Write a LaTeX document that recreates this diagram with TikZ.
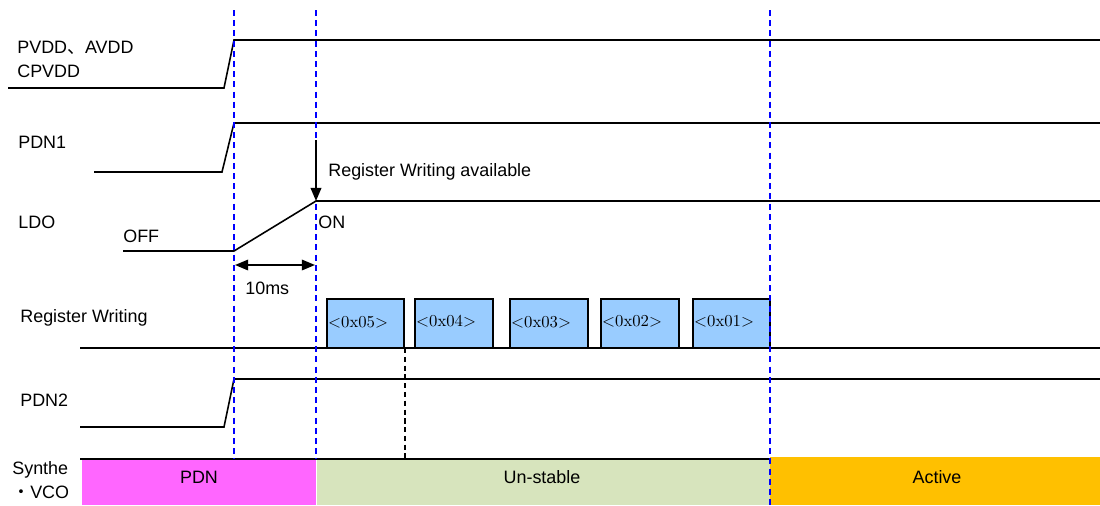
\documentclass[tikz,border=0pt]{standalone}
\usepackage{fontspec}
\setsansfont{Liberation Sans}
\newfontfamily\cjk{Noto Sans CJK SC}
\usetikzlibrary{arrows.meta,positioning}

\definecolor{regblue}{HTML}{99CCFF}
\definecolor{pdnpink}{HTML}{FF66FF}
\definecolor{unstgreen}{HTML}{D7E4BD}
\definecolor{actorange}{HTML}{FFC000}

\tikzset{sigtip/.tip={Triangle[length=7.5pt,width=6pt]}}

\begin{document}
\begin{tikzpicture}[x=0.02cm, y=-0.02cm,
    sig/.style={line width=0.9pt},
    tline/.style={blue, line width=0.9pt, dash pattern=on 3.4pt off 2.4pt},
    lbl/.style={font=\sffamily\fontsize{10.2}{12}\selectfont, inner sep=0pt, anchor=west},
    regbox/.style={draw, line width=0.8pt, fill=regblue},
    regtxt/.style={font=\rmfamily\fontsize{9.5}{11}\selectfont, inner sep=0.5pt, anchor=west},
    bartxt/.style={font=\sffamily\fontsize{10.2}{12}\selectfont, inner sep=0pt}]
    \useasboundingbox (0,0) rectangle (1100,505);

    % state bar
    \fill[pdnpink] (82,459) rectangle (316,505);
    \fill[unstgreen] (317,459) rectangle (770,505);
    \fill[actorange] (770,457) rectangle (1100,505);
    \draw[sig] (80,459) -- (770,459);
    \node[bartxt] (pdn) at (199,477) {PDN};
    \node[bartxt] (unst) at (542,477) {Un-stable};
    \node[bartxt] (act) at (937,477) {Active};

    % signal names
    \node[lbl] (pvdd) at (17,48) {PVDD{\cjk 、}AVDD};
    \node[lbl] (cpvdd) at (17,71) {CPVDD};
    \node[lbl] (pdn1) at (18,142) {PDN1};
    \node[lbl] (ldo) at (18,222) {LDO};
    \node[lbl] (regw) at (20,318) {Register Writing};
    \node[lbl] (pdn2) at (20,400) {PDN2};
    \node[lbl] (synth) at (12,470) {Synthe};
    \node[lbl] (vco) at (12,492) {{\cjk ・}VCO};

    % PVDD, AVDD, CPVDD
    \draw[sig] (8,88) -- (224,88) -- (234,40) -- (1100,40);

    % PDN1
    \draw[sig] (94,172) -- (222,172) -- (234,123) -- (1100,123);

    % LDO
    \draw[sig] (123,251) -- (234,251) -- (316,201) -- (1100,201);
    \node[lbl] (off) at (123,236) {OFF};
    \node[lbl] (on) at (318,222) {ON};

    % register writing
    \draw[sig] (80,348) -- (1100,348);
    \draw[regbox] (327,299) rectangle (404,348);
    \node[regtxt] (r5) at (327,322) {<0x05>};
    \draw[regbox] (415,299) rectangle (493,348);
    \node[regtxt] (r4) at (415,321) {<0x04>};
    \draw[regbox] (510,299) rectangle (588,348);
    \node[regtxt] (r3) at (510,322) {<0x03>};
    \draw[regbox] (601,299) rectangle (679,348);
    \node[regtxt] (r2) at (601,321) {<0x02>};
    \draw[regbox] (693,299) rectangle (770,348);
    \node[regtxt] (r1) at (693,321) {<0x01>};
    \draw[line width=0.8pt, dash pattern=on 3pt off 2pt] (405,348) -- (405,459);

    % PDN2
    \draw[sig] (80,427) -- (224,427) -- (234,379) -- (1100,379);

    % timing marks
    \draw[tline] (234,10) -- (234,459);
    \draw[tline] (316,10) -- (316,459);
    \draw[tline] (770,10) -- (770,505);

    % register writing available
    \coordinate (avtop) at (316,140);
    \coordinate (avbot) at (316,201);
    \draw[-sigtip, line width=1.2pt] (avtop) -- (avbot);
    \node[lbl] (avail) at (328,172) {Register Writing available};

    % 10ms
    \coordinate (tl) at (235,265);
    \coordinate (tr) at (315,265);
    \draw[sigtip-sigtip, line width=1pt] (tl) -- (tr);
    \node[lbl] (tms) at (245,288) {10ms};
\end{tikzpicture}
\end{document}
